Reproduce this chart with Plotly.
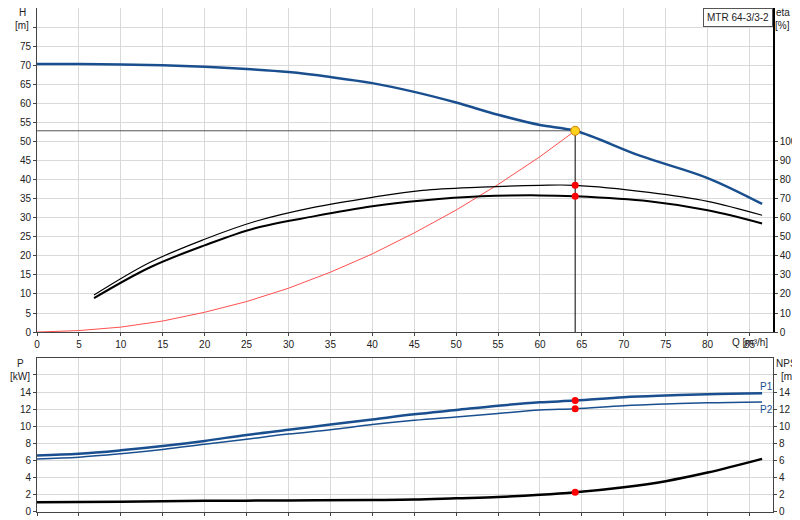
import plotly.graph_objects as go

Q_H = [0, 5, 10, 15, 20, 25, 30, 35, 40, 45, 50, 55, 60, 64.2, 72, 80, 86.5]
H = [70.3, 70.3, 70.2, 70.0, 69.6, 69.0, 68.2, 66.9, 65.3, 63.0, 60.2, 57.0, 54.3, 52.8, 46.2, 40.4, 33.6]
Q_E = [6.8, 13.5, 20, 26, 33, 40, 46, 53, 60, 64.2, 73, 80, 86.5]
ETA1 = [19.4, 36.6, 48.7, 58, 65.4, 70.7, 74.3, 76, 77, 77, 73.3, 68.6, 61.3]
ETA2 = [17.8, 34, 45.5, 54.5, 60.7, 66, 69, 71.2, 71.7, 71.2, 68.6, 63.9, 57]
Q_S = [0, 5, 10, 15, 20, 25, 30, 35, 40, 45, 50, 55, 60, 64.2]
HS = [0, 0.4, 1.3, 2.9, 5.2, 8.0, 11.5, 15.7, 20.5, 26.0, 32.0, 38.7, 46.0, 52.8]
Q_P = [0, 5, 10, 15, 20, 25, 30, 35, 40, 45, 50, 55, 60, 64.2, 70, 75, 80, 86.5]
P1 = [6.6, 6.8, 7.2, 7.7, 8.3, 9.0, 9.6, 10.2, 10.8, 11.4, 11.9, 12.4, 12.8, 13.0, 13.4, 13.6, 13.75, 13.85]
P2 = [6.2, 6.4, 6.8, 7.3, 7.9, 8.5, 9.1, 9.6, 10.2, 10.7, 11.1, 11.5, 11.9, 12.05, 12.4, 12.6, 12.75, 12.85]
Q_N = [0, 10, 20, 30, 40, 45, 50, 55, 60, 64.2, 70, 75, 80, 86.5]
NPSH = [1.15, 1.2, 1.3, 1.35, 1.4, 1.45, 1.6, 1.75, 2.0, 2.3, 2.9, 3.6, 4.6, 6.2]
Q_DUTY, H_DUTY = 64.2, 52.8
ETA1_DUTY, ETA2_DUTY = 77, 71.2
P1_DUTY, P2_DUTY, NPSH_DUTY = 13.0, 12.05, 2.3
TITLE = "MTR 64-3/3-2"

BLUE = "#1a4f8f"
XR = [0, 87.8]
fig = go.Figure()
fig.add_trace(go.Scatter(x=Q_S, y=HS, mode="lines", line=dict(color="#ff5050", width=1), xaxis="x", yaxis="y2"))
fig.add_trace(go.Scatter(x=[0, Q_DUTY], y=[H_DUTY, H_DUTY], mode="lines", line=dict(color="#555", width=1), xaxis="x", yaxis="y2"))
fig.add_trace(go.Scatter(x=[Q_DUTY, Q_DUTY], y=[0, H_DUTY], mode="lines", line=dict(color="black", width=1), xaxis="x", yaxis="y2"))
fig.add_trace(go.Scatter(x=Q_E, y=ETA1, mode="lines", line=dict(color="black", width=1.2, shape="spline"), xaxis="x", yaxis="y3"))
fig.add_trace(go.Scatter(x=Q_E, y=ETA2, mode="lines", line=dict(color="black", width=2, shape="spline"), xaxis="x", yaxis="y3"))
fig.add_trace(go.Scatter(x=Q_H, y=H, mode="lines", line=dict(color=BLUE, width=2.5, shape="spline"), xaxis="x", yaxis="y2"))
fig.add_trace(go.Scatter(x=[Q_DUTY, Q_DUTY], y=[ETA1_DUTY, ETA2_DUTY], mode="markers", marker=dict(color="red", size=7), xaxis="x", yaxis="y3"))
fig.add_trace(go.Scatter(x=[Q_DUTY], y=[H_DUTY], mode="markers", marker=dict(color="#ffd21e", size=9, line=dict(color="#d08000", width=1)), xaxis="x", yaxis="y2"))
fig.add_trace(go.Scatter(x=Q_P, y=P1, mode="lines", line=dict(color=BLUE, width=2.5, shape="spline"), xaxis="x2", yaxis="y"))
fig.add_trace(go.Scatter(x=Q_P, y=P2, mode="lines", line=dict(color=BLUE, width=1.5, shape="spline"), xaxis="x2", yaxis="y"))
fig.add_trace(go.Scatter(x=Q_N, y=NPSH, mode="lines", line=dict(color="black", width=2.5, shape="spline"), xaxis="x2", yaxis="y"))
fig.add_trace(go.Scatter(x=[Q_DUTY]*3, y=[P1_DUTY, P2_DUTY, NPSH_DUTY], mode="markers", marker=dict(color="red", size=7), xaxis="x2", yaxis="y"))
fig.add_trace(go.Scatter(x=[None], y=[None], xaxis="x2", yaxis="y4"))

grid = "#d9d9d9"
ax = dict(showline=True, linecolor="#444", gridcolor=grid, zeroline=False, ticks="outside", ticklen=3, tickcolor="#444")
fig.update_layout(
    width=800, height=520, showlegend=False, plot_bgcolor="white", paper_bgcolor="white",
    margin=dict(l=29, r=35, t=0, b=16),
    font=dict(family="Liberation Sans, Arial", size=10, color="#222"),
    xaxis=dict(**ax, range=XR, domain=[0, 1], anchor="y2", tickvals=list(range(0, 90, 5)), mirror=True),
    yaxis2=dict(**ax, domain=[0.357, 1], range=[0, 85], tickvals=list(range(0, 85, 5)),
                ticktext=[str(v) for v in range(0, 80, 5)] + [""]),
    yaxis3=dict(showline=True, linecolor="black", linewidth=1.5, overlaying="y2", side="right", range=[0, 170], tickvals=list(range(0, 110, 10)),
                showgrid=False, zeroline=False, ticks="outside", ticklen=3, anchor="x"),
    xaxis2=dict(**ax, range=XR, domain=[0, 1], anchor="y", tickvals=list(range(0, 90, 5)), showticklabels=False, mirror=True),
    yaxis=dict(**ax, domain=[0, 0.306], range=[0, 18], tickvals=list(range(0, 18, 2)),
               ticktext=[str(v) for v in range(0, 16, 2)] + [""], mirror=True),
    yaxis4=dict(showline=True, linecolor="#444", overlaying="y", side="right", range=[0, 18], tickvals=list(range(0, 18, 2)),
                ticktext=[str(v) for v in range(0, 16, 2)] + [""], showgrid=False, zeroline=False, ticks="outside", ticklen=3, anchor="x2"),
)
ann = [
    dict(text="H", x=14, y=5, xanchor="center"), dict(text="[m]", x=14, y=18, xanchor="center"),
    dict(text="eta", x=775, y=5, xanchor="center"), dict(text="[%]", x=775, y=18, xanchor="center"),
    dict(text="P", x=12, y=355, xanchor="center"), dict(text="[kW]", x=12, y=368, xanchor="center"),
    dict(text="NPSH", x=782, y=355, xanchor="center"), dict(text="[m]", x=780, y=368, xanchor="center"),
    dict(text="Q [m³/h]", x=762, y=334, xanchor="right"),
]
for a in ann:
    fig.add_annotation(text=a["text"], xref="paper", yref="paper", x=(a["x"] - 29) / 736, y=1 - a["y"] / 504,
                       xanchor=a["xanchor"], yanchor="middle", showarrow=False)
fig.add_annotation(text=TITLE, xref="paper", yref="paper", x=1, y=1, xanchor="right", yanchor="top", showarrow=False,
                   bordercolor="#555", borderwidth=1, borderpad=3, bgcolor="white")
fig.add_annotation(text="P1", x=87, y=14.7, xref="x2", yref="y", showarrow=False, font=dict(color=BLUE))
fig.add_annotation(text="P2", x=87, y=12.0, xref="x2", yref="y", showarrow=False, font=dict(color=BLUE))
fig.write_html("out.html")
